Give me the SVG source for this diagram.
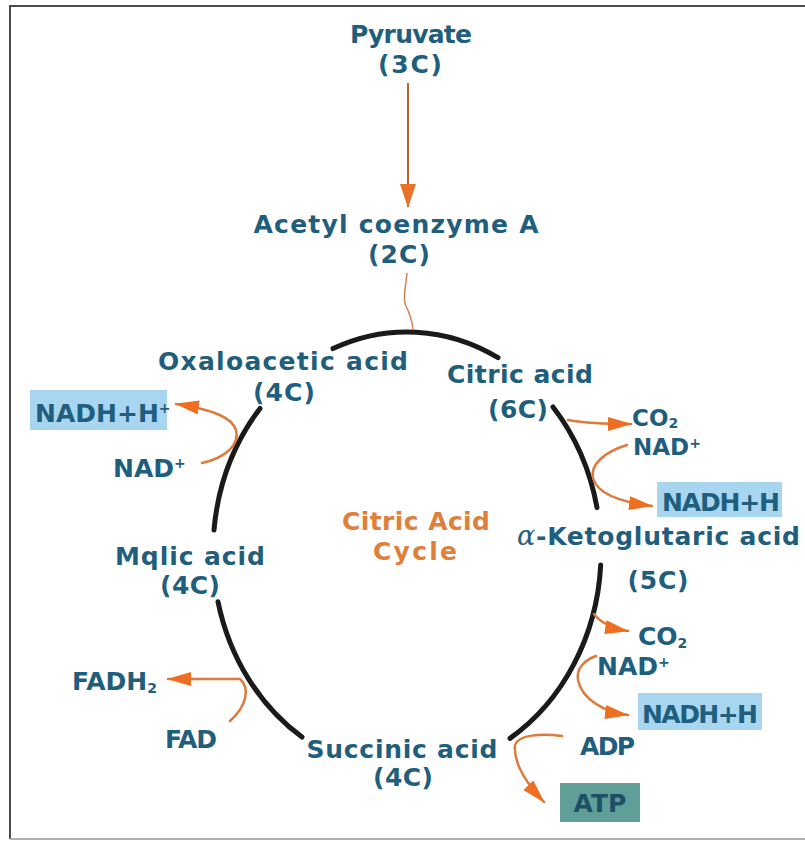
<svg xmlns="http://www.w3.org/2000/svg" width="805" height="841" viewBox="0 0 805 841">
<style>
  text { font-family: "DejaVu Sans", "Liberation Sans", sans-serif; font-weight: bold; font-size: 25px; fill: #1f5e7c; }
  .mid { text-anchor: middle; }
  .cyc { fill: #de7f3c; }
  .sm { font-size: 23px; }
  .arc { fill: none; stroke: #1a1a1a; stroke-width: 5; stroke-linecap: round; }
  .flow { fill: none; stroke: #dd7a3c; stroke-width: 2.5; stroke-linecap: round; }
  .box { fill: #a8d6f0; }
  .atp { fill: #5f9f97; }
  .sup { font-size: 14px; }
</style>
<defs>
  <marker id="ah" viewBox="0 0 24 14" refX="23" refY="7" markerWidth="24" markerHeight="14" markerUnits="userSpaceOnUse" orient="auto">
    <path d="M0,0 L24,7 L0,14 z" fill="#ee6f22"/>
  </marker>
  <marker id="ah2" viewBox="0 0 24 16" refX="23" refY="8" markerWidth="24" markerHeight="16" markerUnits="userSpaceOnUse" orient="auto">
    <path d="M0,0 L24,8 L0,16 z" fill="#e8742a"/>
  </marker>
</defs>
<rect x="0" y="0" width="805" height="841" fill="#ffffff"/>
<path d="M805 6 H10 V839" fill="none" stroke="#4a4a4a" stroke-width="2"/>
<path d="M10 839 H805" fill="none" stroke="#b0b0b0" stroke-width="2"/>

<g id="cycle-ring">
  <path class="arc" d="M333 348.6 A194 220 0 0 1 498 357.7"/>
  <path class="arc" d="M260 408.4 A194 220 0 0 0 214 530"/>
  <path class="arc" d="M218 601.7 A194 220 0 0 0 302 737"/>
  <path class="arc" d="M553 407 A194 220 0 0 1 597 507.6"/>
  <path class="arc" d="M600.7 565 A194 220 0 0 1 510 738.4"/>
</g>

<g id="connectors">
  <path d="M408 83 V207" fill="none" stroke="#b8662e" stroke-width="2" marker-end="url(#ah2)"/>
  <path d="M407 273 C405 290 403 300 406 306 S412 318 413 330" fill="none" stroke="#d98050" stroke-width="1.5"/>
  <path class="flow" d="M202 463 C225 458 240 445 236 430 C232 418 215 410 176 404" marker-end="url(#ah)"/>
  <path class="flow" d="M568 420 Q590 424 631 424" marker-end="url(#ah)"/>
  <path class="flow" d="M627 445 C604 452 590 465 593 478 C597 494 620 502 652 506" marker-end="url(#ah)"/>
  <path class="flow" d="M594 614 C600 622 610 628 628 631" marker-end="url(#ah)"/>
  <path class="flow" d="M596 656 C585 660 576 668 578 680 C582 700 605 712 628 715" marker-end="url(#ah)"/>
  <path class="flow" d="M562 736 C540 733 518 735 515 745 C513 765 528 785 544 802" marker-end="url(#ah)"/>
  <path class="flow" d="M230 721 C247 706 250 688 240 679 L168 679" marker-end="url(#ah)"/>
</g>

<g id="pyruvate">
  <text class="mid" x="411" y="43" textLength="122">Pyruvate</text>
  <text class="mid" x="410" y="73" textLength="64">(3C)</text>
</g>
<g id="acetyl-coa">
  <text class="mid" x="396" y="233" textLength="285">Acetyl coenzyme A</text>
  <text class="mid" x="399" y="263" textLength="62">(2C)</text>
</g>
<g id="oxaloacetic">
  <text class="mid" x="283" y="370" textLength="250">Oxaloacetic acid</text>
  <text class="mid" x="284" y="401" textLength="62">(4C)</text>
</g>
<g id="citric">
  <text class="mid" x="520" y="383" textLength="146">Citric acid</text>
  <text class="mid" x="518" y="418" textLength="60">(6C)</text>
</g>
<g id="ketoglutaric">
  <text x="517" y="545" style="font-family:'DejaVu Serif','Liberation Serif',serif;font-weight:normal;font-style:italic;font-size:27px">α</text>
  <text x="536" y="545" textLength="264">-Ketoglutaric acid</text>
  <text class="mid" x="658" y="589" textLength="61">(5C)</text>
</g>
<g id="malic">
  <text class="mid" x="190" y="565" textLength="150">Mqlic acid</text>
  <text class="mid" x="190" y="594" textLength="60">(4C)</text>
</g>
<g id="succinic">
  <text class="mid" x="402" y="758" textLength="191">Succinic acid</text>
  <text class="mid" x="403" y="786" textLength="60">(4C)</text>
</g>
<g id="cycle-title">
  <text class="mid cyc" x="416" y="530" textLength="148">Citric Acid</text>
  <text class="mid cyc" x="415" y="560" textLength="84">Cycle</text>
</g>

<g id="nadh-left">
  <rect class="box" x="30" y="390" width="137" height="40"/>
  <text x="35" y="422">NADH+H<tspan class="sup" dy="-9">+</tspan></text>
</g>
<g id="nad-left">
  <text x="113" y="477">NAD<tspan class="sup" dy="-9">+</tspan></text>
</g>
<g id="co2-top">
  <text class="sm" x="632" y="426">CO<tspan class="sup" dy="2">2</tspan></text>
</g>
<g id="nad-top">
  <text class="sm" x="633" y="455">NAD<tspan class="sup" dy="-7">+</tspan></text>
</g>
<g id="nadh-top">
  <rect class="box" x="657" y="482" width="125" height="35"/>
  <text x="662" y="511" textLength="118">NADH+H</text>
</g>
<g id="co2-bottom">
  <text x="638" y="645">CO<tspan class="sup" dy="3">2</tspan></text>
</g>
<g id="nad-bottom">
  <text x="597" y="675">NAD<tspan class="sup" dy="-8">+</tspan></text>
</g>
<g id="nadh-bottom">
  <rect class="box" x="638" y="693" width="124" height="37"/>
  <text x="642" y="723" textLength="116">NADH+H</text>
</g>
<g id="adp">
  <text x="580" y="755" textLength="55">ADP</text>
</g>
<g id="atp">
  <rect class="atp" x="560" y="783" width="80" height="39"/>
  <text class="mid" x="600" y="812" style="fill:#1f4f66">ATP</text>
</g>
<g id="fadh2">
  <text x="72" y="690">FADH<tspan class="sup" dy="3">2</tspan></text>
</g>
<g id="fad">
  <text x="165" y="748" textLength="52">FAD</text>
</g>
</svg>
